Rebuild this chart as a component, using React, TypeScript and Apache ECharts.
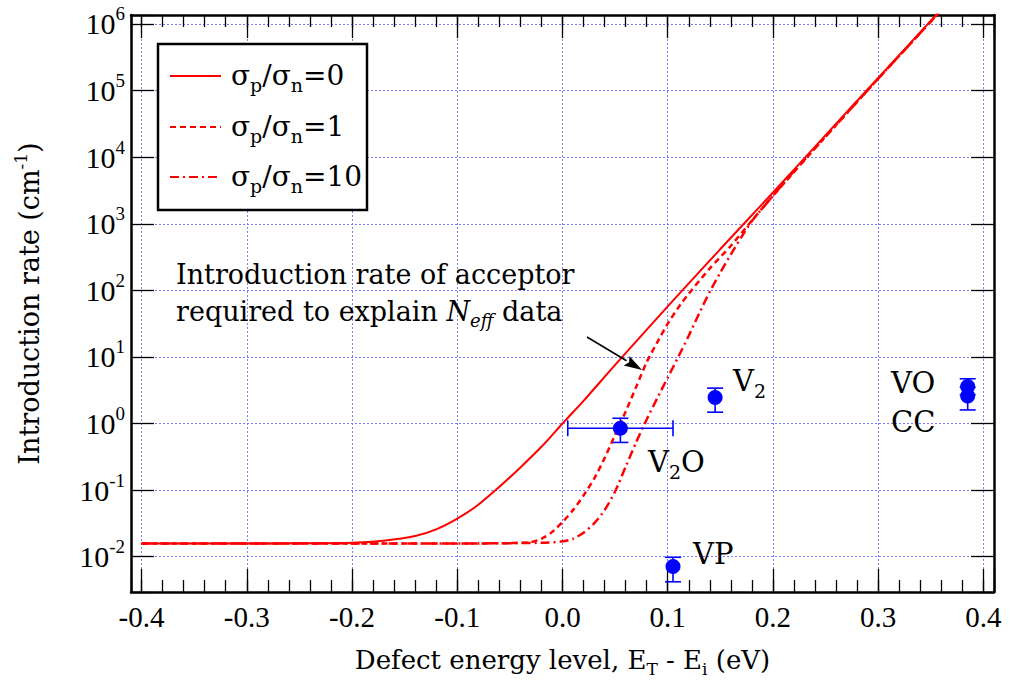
import React, { useEffect, useRef } from 'react';
import * as echarts from 'echarts';

// ---- data ----
const energySolid = [-0.4, -0.3, -0.25, -0.2, -0.17, -0.14, -0.12, -0.1, -0.08, -0.06, -0.04, -0.02, 0, 0.02, 0.05, 0.1, 0.15, 0.2, 0.25, 0.3, 0.36];
const rateSolid = [0.0158, 0.0158, 0.0159, 0.0162, 0.0174, 0.0204, 0.0257, 0.0372, 0.0603, 0.112, 0.219, 0.447, 1.0, 2.19, 7.59, 57.5, 417, 2950, 21400, 155000, 1.66e6];

const energyRatio1 = [-0.4, -0.2, -0.1, -0.05, -0.03, -0.02, -0.01, 0, 0.01, 0.02, 0.03, 0.04, 0.05, 0.06, 0.07, 0.08, 0.09, 0.1, 0.11, 0.12, 0.14, 0.16, 0.18, 0.2, 0.25, 0.3, 0.36];
const rateRatio1 = [0.0158, 0.0158, 0.0158, 0.0160, 0.0166, 0.0186, 0.0234, 0.0331, 0.0501, 0.0832, 0.148, 0.302, 0.676, 1.51, 3.55, 8.32, 16.6, 31.6, 55.0, 89.1, 214, 468, 1120, 2630, 20400, 151000, 1.62e6];

const energyRatio10 = [-0.4, -0.1, -0.02, 0, 0.01, 0.02, 0.03, 0.04, 0.05, 0.06, 0.07, 0.08, 0.09, 0.1, 0.11, 0.12, 0.13, 0.14, 0.15, 0.16, 0.17, 0.18, 0.2, 0.22, 0.25, 0.3, 0.36];
const rateRatio10 = [0.0158, 0.0158, 0.0162, 0.0170, 0.0186, 0.0229, 0.0316, 0.0501, 0.0955, 0.224, 0.525, 1.15, 2.40, 4.90, 10.0, 20.9, 45.7, 95.5, 186, 347, 631, 1100, 2630, 6170, 20400, 151000, 1.62e6];

const defectEnergy = [0.055, 0.145, 0.105, 0.385, 0.385];
const defectEnergyLow = [0.005, 0.145, 0.105, 0.385, 0.385];
const defectEnergyHigh = [0.105, 0.145, 0.105, 0.385, 0.385];
const defectRate = [0.85, 2.45, 0.0071, 3.6, 2.6];
const defectRateLow = [0.52, 1.48, 0.0042, 2.7, 1.6];
const defectRateHigh = [1.2, 3.4, 0.0098, 4.7, 3.5];

const seriesNames = ['σ{sub|p}/σ{sub|n}=0', 'σ{sub|p}/σ{sub|n}=1', 'σ{sub|p}/σ{sub|n}=10'];

const SERIF = 'DejaVu Serif, serif';
const NUM = 'Liberation Serif, serif';
const RED = '#ff0000';
const BLUE = '#0000ff';
const GRIDC = '#7a7aff';

const lg = (v: number) => Math.log10(v);
const pairs = (xs: number[], ys: number[]) => xs.map((x, i) => [x, lg(ys[i])]);

const dashRatio1 = [6, 4];
const dashRatio10 = [9, 4, 2, 4];

export default function App() {
  const ref = useRef<HTMLDivElement>(null);
  useEffect(() => {
    if (!ref.current) return;
    const chart = echarts.init(ref.current, null, { renderer: 'svg' });
    const xMin = -0.41, xMax = 0.41, yMin = -2.53, yMax = 6.135;

    const xMajor = {
      type: 'value', min: xMin, max: xMax, minInterval: 0.1, maxInterval: 0.1, splitNumber: 8,
      axisLine: { show: true, onZero: false, lineStyle: { color: '#000', width: 2.5 } },
      axisTick: { show: true, inside: true, length: 23, lineStyle: { color: '#000', width: 1.3 } },
      splitLine: { show: true, lineStyle: { color: GRIDC, width: 1, type: [2, 2] } },
    };
    const xMinor = {
      type: 'value', min: xMin, max: xMax, minInterval: 0.02, maxInterval: 0.02, splitNumber: 40,
      axisLine: { show: false, onZero: false },
      axisTick: { show: true, inside: true, length: 12, lineStyle: { color: '#000', width: 1.3 } },
      axisLabel: { show: false }, splitLine: { show: false },
    };

    const labelRich = {
      b: { fontFamily: NUM, fontSize: 30, color: '#000' },
      s: { fontFamily: NUM, fontSize: 19, color: '#000', padding: [0, 0, 20, 0] },
    };

    const errData = defectEnergy.map((x, i) => [x, lg(defectRate[i]), lg(defectRateLow[i]), lg(defectRateHigh[i]), defectEnergyLow[i], defectEnergyHigh[i]]);

    const legendY = [76, 127, 177];
    const legendDash: any[] = ['solid', dashRatio1, dashRatio10];
    const legendGraphics: any[] = [
      { type: 'rect', shape: { x: 158, y: 44, width: 209, height: 166 }, style: { fill: '#fff', stroke: '#000', lineWidth: 2.5 }, z: 100 },
    ];
    seriesNames.forEach((n, i) => {
      legendGraphics.push({ type: 'line', shape: { x1: 170, y1: legendY[i], x2: 221, y2: legendY[i] }, style: { stroke: RED, lineWidth: 2, lineDash: legendDash[i] === 'solid' ? null : legendDash[i] }, z: 101 });
      legendGraphics.push({
        type: 'text', x: 231, y: legendY[i] - 1, z: 101,
        style: {
          text: n, fontFamily: SERIF, fontSize: 28, fill: '#000', verticalAlign: 'middle', align: 'left',
          rich: { sub: { fontFamily: SERIF, fontSize: 19, fill: '#000', padding: [20, 0, 0, 0] } },
        },
      });
    });

    const subRich = (fs: number) => ({ sub: { fontFamily: SERIF, fontSize: fs, fill: '#000', padding: [Math.round(fs * 1.0), 0, 0, 0] } });
    const pointLabels = [
      { t: 'V{sub|2}', x: 733, y: 381 },
      { t: 'V{sub|2}O', x: 648, y: 462 },
      { t: 'VP', x: 693, y: 554 },
      { t: 'VO', x: 891, y: 383 },
      { t: 'CC', x: 891, y: 422 },
    ];
    const labelGraphics = pointLabels.map((p) => ({
      type: 'text', x: p.x, y: p.y, z: 50,
      style: { text: p.t, fontFamily: SERIF, fontSize: 29, fill: '#000', align: 'left', verticalAlign: 'middle', rich: subRich(19) },
    }));

    // annotation arrow
    const ax1 = 587, ay1 = 337, ax2 = 642, ay2 = 370;
    const dx = ax2 - ax1, dy = ay2 - ay1, L = Math.hypot(dx, dy);
    const ux = dx / L, uy = dy / L, hl = 18, hw = 5.5;
    const bx = ax2 - ux * hl, by = ay2 - uy * hl;

    const lineCommon = { type: 'line', xAxisIndex: 0, yAxisIndex: 0, showSymbol: false, smooth: 0.25, z: 5 };

    const option: any = {
      animation: false,
      backgroundColor: '#fff',
      grid: { left: 131, right: 16, top: 15, bottom: 103, containLabel: false, outerBoundsMode: 'none' },
      xAxis: [
        {
          ...xMajor, position: 'bottom',
          axisLabel: {
            show: true, margin: 10, fontFamily: NUM, fontSize: 29, color: '#000',
            formatter: (v: number) => { const k = Math.round(v * 10); return Math.abs(v * 10 - k) < 1e-6 ? (k / 10).toFixed(1) : ''; },
          },
          name: 'Defect energy level, E{sub|T} - E{sub|i} (eV)', nameLocation: 'middle', nameGap: 50,
          nameTextStyle: { fontFamily: SERIF, fontSize: 26, color: '#000', rich: { sub: { fontFamily: SERIF, fontSize: 17, color: '#000', padding: [18, 0, 0, 0] } } },
        },
        { ...xMinor, position: 'bottom' },
        { ...xMajor, position: 'top', axisLabel: { show: false }, splitLine: { show: false } },
        { ...xMinor, position: 'top' },
      ],
      yAxis: [
        {
          type: 'value', position: 'left', min: yMin, max: yMax, minInterval: 1, maxInterval: 1, splitNumber: 9,
          axisLine: { show: true, onZero: false, lineStyle: { color: '#000', width: 2.5 } },
          axisTick: { show: true, inside: true, length: 23, lineStyle: { color: '#000', width: 1.3 } },
          splitLine: { show: true, lineStyle: { color: GRIDC, width: 1, type: [2, 2] } },
          axisLabel: {
            show: true, margin: 6, color: '#000', rich: labelRich,
            formatter: (v: number) => { const k = Math.round(v); return Math.abs(v - k) < 1e-6 ? `{b|10}{s|${k}}` : ''; },
          },
          name: 'Introduction rate (cm{sup|-1})', nameLocation: 'middle', nameGap: 84, nameRotate: 90,
          nameTextStyle: { fontFamily: SERIF, fontSize: 27, color: '#000', rich: { sup: { fontFamily: SERIF, fontSize: 17, color: '#000', padding: [0, 0, 18, 0] } } },
        },
        {
          type: 'value', position: 'right', min: yMin, max: yMax, minInterval: 1, maxInterval: 1, splitNumber: 9,
          axisLine: { show: true, onZero: false, lineStyle: { color: '#000', width: 2.5 } },
          axisTick: { show: true, inside: true, length: 23, lineStyle: { color: '#000', width: 1.3 } },
          splitLine: { show: false }, axisLabel: { show: false },
        },
      ],
      series: [
        { ...lineCommon, name: 'ratio0', data: pairs(energySolid, rateSolid), lineStyle: { color: RED, width: 2 } },
        { ...lineCommon, name: 'ratio1', data: pairs(energyRatio1, rateRatio1), lineStyle: { color: RED, width: 2.5, type: dashRatio1 } },
        { ...lineCommon, name: 'ratio10', data: pairs(energyRatio10, rateRatio10), lineStyle: { color: RED, width: 2.5, type: dashRatio10 } },
        {
          name: 'errors', type: 'custom', xAxisIndex: 0, yAxisIndex: 0, data: errData, encode: { x: 0, y: 1 }, z: 6,
          renderItem: (params: any, api: any) => {
            const x = api.value(0), ylo = api.value(2), yhi = api.value(3), xlo = api.value(4), xhi = api.value(5), y = api.value(1);
            const lo = api.coord([x, ylo]);
            const hi = api.coord([x, yhi]);
            const cap = 8;
            const st = { stroke: BLUE, lineWidth: 1.6 };
            const children: any[] = [
              { type: 'line', shape: { x1: lo[0], y1: lo[1], x2: hi[0], y2: hi[1] }, style: st },
              { type: 'line', shape: { x1: lo[0] - cap, y1: lo[1], x2: lo[0] + cap, y2: lo[1] }, style: st },
              { type: 'line', shape: { x1: hi[0] - cap, y1: hi[1], x2: hi[0] + cap, y2: hi[1] }, style: st },
            ];
            if (xhi - xlo > 1e-9) {
              const l = api.coord([xlo, y]);
              const r = api.coord([xhi, y]);
              children.push({ type: 'line', shape: { x1: l[0], y1: l[1], x2: r[0], y2: r[1] }, style: st });
              children.push({ type: 'line', shape: { x1: l[0], y1: l[1] - cap, x2: l[0], y2: l[1] + cap }, style: st });
              children.push({ type: 'line', shape: { x1: r[0], y1: r[1] - cap, x2: r[0], y2: r[1] + cap }, style: st });
            }
            return { type: 'group', children };
          },
        },
        {
          name: 'defects', type: 'scatter', xAxisIndex: 0, yAxisIndex: 0,
          data: defectEnergy.map((x, i) => [x, lg(defectRate[i])]),
          symbol: 'circle', symbolSize: 15, itemStyle: { color: BLUE, opacity: 1 }, z: 7,
        },
      ],
      graphic: [
        ...legendGraphics,
        ...labelGraphics,
        {
          type: 'text', x: 176, y: 274, z: 50,
          style: { text: 'Introduction rate of acceptor', fontFamily: SERIF, fontSize: 27, fill: '#000', align: 'left', verticalAlign: 'middle' },
        },
        {
          type: 'text', x: 176, y: 311, z: 50,
          style: {
            text: 'required to explain {it|N}{sub|eff} data', fontFamily: SERIF, fontSize: 27, fill: '#000', align: 'left', verticalAlign: 'middle',
            rich: {
              it: { fontFamily: SERIF, fontStyle: 'italic', fontSize: 27, fill: '#000' },
              sub: { fontFamily: SERIF, fontStyle: 'italic', fontSize: 18, fill: '#000', padding: [18, 0, 0, 0] },
            },
          },
        },
        { type: 'line', shape: { x1: ax1, y1: ay1, x2: bx, y2: by }, style: { stroke: '#000', lineWidth: 1.5 }, z: 50 },
        {
          type: 'polygon', z: 50,
          shape: { points: [[ax2, ay2], [bx - uy * hw, by + ux * hw], [bx + ux * 3, by + uy * 3], [bx + uy * hw, by - ux * hw]] },
          style: { fill: '#000' },
        },
      ],
    };
    chart.setOption(option);
    return () => chart.dispose();
  }, []);
  return <div ref={ref} style={{ position: 'absolute', left: 0, top: 0, width: 1010, height: 695 }} />;
}
